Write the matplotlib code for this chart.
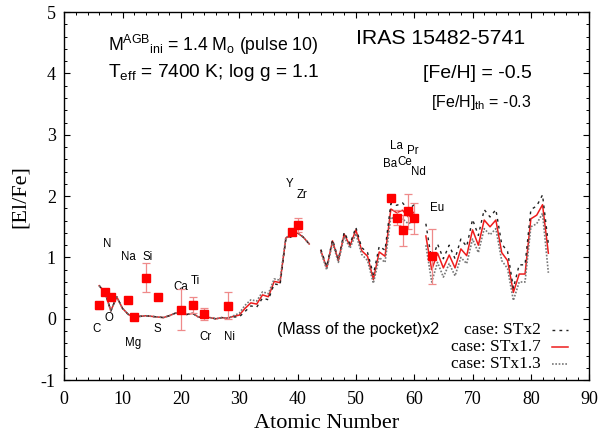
import numpy as np
import matplotlib
matplotlib.use('Agg')
import matplotlib.pyplot as plt
from matplotlib.ticker import MultipleLocator

plt.rcParams['axes.unicode_minus'] = False
plt.rcParams['mathtext.fontset'] = 'custom'
plt.rcParams['mathtext.rm'] = 'Liberation Sans'
plt.rcParams['mathtext.it'] = 'Liberation Sans'

# ----------------------------
# 1) Model curves ([El/Fe] vs Z), NaN = gap (Tc, Pm)
# ----------------------------
z_model = np.arange(6, 84)

st_2 = np.array([
    0.54, 0.43, 0.13, 0.36, 0.17, 0.07, 0.03, 0.04, 0.05, 0.04,   # 6-15
    0.03, 0.02, 0.05, 0.09, 0.10, 0.07, 0.09, 0.03, 0.02, 0.02,   # 16-25
    0.00, 0.02, 0.01, 0.03, 0.03, 0.12, 0.21, 0.19, 0.34, 0.31,   # 26-35
    0.57, 0.55, 1.30, 1.34, 1.40, 1.33, 1.22, np.nan, 1.13, 0.85, # 36-45
    1.29, 0.97, 1.41, 1.22, 1.49, 1.16, 1.08, 0.72, 1.18, 1.12,   # 46-55
    1.88, 1.85, 1.89, 1.78, 1.86, np.nan, 1.55, 0.95, 1.22, 0.98, # 56-65
    1.20, 0.98, 1.30, 1.18, 1.62, 1.36, 1.78, 1.66, 1.78, 1.22,   # 66-75
    1.10, 0.50, 0.88, 0.88, 1.78, 1.84, 2.02, 1.22])              # 76-83

st_17 = np.array([
    0.54, 0.43, 0.13, 0.36, 0.17, 0.07, 0.03, 0.04, 0.05, 0.04,
    0.03, 0.02, 0.05, 0.09, 0.10, 0.07, 0.09, 0.03, 0.02, 0.02,
    0.00, 0.02, 0.01, 0.04, 0.06, 0.17, 0.26, 0.24, 0.39, 0.36,
    0.61, 0.59, 1.32, 1.35, 1.40, 1.33, 1.22, np.nan, 1.11, 0.83,
    1.27, 0.95, 1.38, 1.19, 1.45, 1.11, 1.02, 0.64, 1.09, 1.02,
    1.79, 1.73, 1.77, 1.66, 1.74, np.nan, 1.35, 0.80, 1.07, 0.83,
    1.04, 0.83, 1.14, 1.03, 1.45, 1.20, 1.61, 1.50, 1.61, 1.08,
    0.95, 0.43, 0.73, 0.73, 1.63, 1.69, 1.86, 1.07])

st_13 = np.array([
    0.54, 0.43, 0.13, 0.36, 0.17, 0.07, 0.03, 0.04, 0.05, 0.04,
    0.03, 0.02, 0.05, 0.09, 0.10, 0.07, 0.09, 0.03, 0.02, 0.02,
    0.00, 0.02, 0.01, 0.05, 0.09, 0.22, 0.31, 0.29, 0.44, 0.41,
    0.65, 0.63, 1.33, 1.36, 1.40, 1.33, 1.22, np.nan, 1.09, 0.80,
    1.24, 0.92, 1.34, 1.15, 1.39, 1.05, 0.95, 0.58, 1.00, 0.92,
    1.66, 1.60, 1.63, 1.55, 1.60, np.nan, 1.20, 0.60, 0.92, 0.68,
    0.90, 0.70, 1.00, 0.90, 1.30, 1.08, 1.47, 1.37, 1.47, 0.95,
    0.82, 0.30, 0.60, 0.60, 1.50, 1.55, 1.72, 0.75])

# ----------------------------
# 2) Observed abundances
# ----------------------------
obs_z   = [6, 7, 8, 11, 12, 14, 16, 20, 22, 24, 28, 39, 40, 56, 57, 58, 59, 60, 63]
obs_val = [0.22, 0.44, 0.36, 0.31, 0.03, 0.67, 0.35, 0.15, 0.22, 0.08, 0.21,
           1.41, 1.53, 1.97, 1.65, 1.44, 1.75, 1.64, 1.02]
obs_err = [0.06, 0.00, 0.05, 0.00, 0.02, 0.24, 0.00, 0.34, 0.13, 0.10, 0.22,
           0.04, 0.11, 0.04, 0.12, 0.25, 0.28, 0.25, 0.45]

# element labels: name, Z position, y position
lab_names = ['C', 'N', 'O', 'Na', 'Si', 'Mg', 'S', 'Ca', 'Ti', 'Cr', 'Ni',
             'Y', 'Zr', 'La', 'Pr', 'Ba', 'Ce', 'Nd', 'Eu']
lab_x = [5.5, 7.4, 7.7, 11.0, 14.3, 11.9, 16.0, 20.0, 22.4, 24.2, 28.4,
         38.7, 40.7, 57.0, 59.7, 55.8, 58.3, 60.7, 63.9]
lab_y = [-0.16, 1.22, 0.02, 1.0, 1.0, -0.39, -0.16, 0.52, 0.62, -0.30, -0.30,
         2.2, 2.02, 2.82, 2.74, 2.53, 2.56, 2.39, 1.80]

legend_labels = ['case: STx2', 'case: STx1.7', 'case: STx1.3']

# ----------------------------
# 3) Figure
# ----------------------------
fig = plt.figure(figsize=(6, 4.32), dpi=100)
ax = fig.add_axes([0.107, 0.120, 0.875, 0.852])

sans = 'Liberation Sans'
serif = 'Liberation Serif'

ax.plot(z_model, st_17, color='#ee1c1c', lw=1.1, zorder=3)
ax.plot(z_model, st_2, color='#222222', lw=1.0, ls=(0, (2, 3)), zorder=4)
ax.plot(z_model, st_13, color='#777777', lw=1.2, ls=(0, (1, 1)), zorder=4)

ax.errorbar(obs_z, obs_val, yerr=obs_err, fmt='none', ecolor='#ef8a8a',
            elinewidth=0.9, capsize=3, capthick=0.9, zorder=5)
ax.plot(obs_z, obs_val, 's', color='#ff0000', ms=5.4, mec='#ff0000', zorder=6)

for name, x, y in zip(lab_names, lab_x, lab_y):
    ax.text(x, y, name, ha='center', va='center', fontsize=8.3, family=sans)

# top annotations
ax.text(7.5, 4.47, r'M$^{\rm AGB}{}_{\rm ini}$ = 1.4 M$_{\rm o}$ (pulse 10)',
        ha='left', va='center', fontsize=12.7, family=sans)
ax.text(7.5, 4.02, r'T$_{\rm eff}$ = 7400 K; log g = 1.1',
        ha='left', va='center', fontsize=13.8, family=sans)
ax.text(50.0, 4.57, 'IRAS 15482-5741', ha='left', va='center',
        fontsize=15.3, family=sans)
ax.text(80.2, 4.0, '[Fe/H] = -0.5', ha='right', va='center',
        fontsize=14, family=sans)
ax.text(80.1, 3.52, r'[Fe/H]$_{\rm th}$ = -0.3', ha='right', va='center',
        fontsize=11.5, family=sans)
ax.text(36.4, -0.18, '(Mass of the pocket)x2', ha='left', va='center',
        fontsize=11.5, family=sans)

# key (gnuplot style: text right aligned, sample on the right)
key_y = [0.136, 0.090, 0.044]
key_styles = [dict(color='#222222', lw=1.0, ls=(0, (2, 3))),
              dict(color='#ee1c1c', lw=1.1),
              dict(color='#777777', lw=1.2, ls=(0, (1, 1)))]
for lbl, yy, st in zip(legend_labels, key_y, key_styles):
    ax.text(0.907, yy, lbl, transform=ax.transAxes, ha='right', va='center',
            fontsize=12.5, family=serif)
    ax.plot([0.929, 0.959], [yy, yy], transform=ax.transAxes, **st)

# axes
ax.set_xlim(0, 90)
ax.set_ylim(-1, 5)
ax.xaxis.set_major_locator(MultipleLocator(10))
ax.xaxis.set_minor_locator(MultipleLocator(2))
ax.yaxis.set_major_locator(MultipleLocator(1))
ax.yaxis.set_minor_locator(MultipleLocator(0.2))
ax.tick_params(which='both', direction='in', top=True, right=True)
ax.tick_params(which='major', length=4.5, width=0.8, labelsize=13)
ax.tick_params(axis='x', which='major', pad=8)
ax.tick_params(axis='y', which='major', pad=6)
ax.tick_params(which='minor', length=2.5, width=0.7)
for lab in ax.get_xticklabels() + ax.get_yticklabels():
    lab.set_family(serif)
for sp in ax.spines.values():
    sp.set_linewidth(1.0)

ax.set_xlabel('Atomic Number', fontsize=16, family=serif, labelpad=4)
ax.set_ylabel('[El/Fe]', fontsize=16, family=serif, labelpad=8)

fig.savefig('out.png', dpi=100)
